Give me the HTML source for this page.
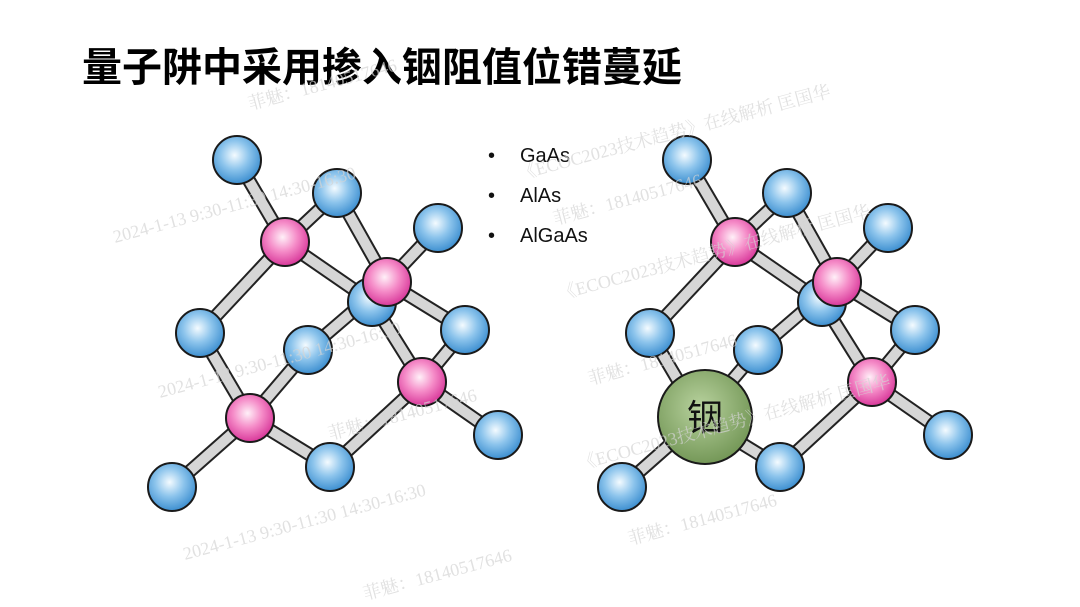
<!DOCTYPE html>
<html><head><meta charset="utf-8"><style>
body{margin:0;width:1080px;height:607px;background:#fff;overflow:hidden;position:relative;font-family:"Liberation Sans","Noto Sans CJK SC",sans-serif}
.t{position:absolute;left:82px;top:44px;font-size:40px;line-height:48px;font-weight:bold;color:#000;white-space:nowrap}
.b{position:absolute;left:488px;font-size:20px;color:#111}
.b span{display:inline-block;width:32px}
</style></head><body>
<div class="t">量子阱中采用掺入铟阻值位错蔓延</div>
<div class="b" style="top:145px"><span>•</span>GaAs</div>
<div class="b" style="top:185px"><span>•</span>AlAs</div>
<div class="b" style="top:225px"><span>•</span>AlGaAs</div>
<svg width="1080" height="607" style="position:absolute;left:0;top:0">
<defs>
<radialGradient id="bl" cx="0.45" cy="0.4" r="0.6"><stop offset="0" stop-color="#f4fbff"/><stop offset="0.5" stop-color="#8cc4ec"/><stop offset="1" stop-color="#3d8fd0"/></radialGradient>
<radialGradient id="pk" cx="0.45" cy="0.4" r="0.6"><stop offset="0" stop-color="#fff0f8"/><stop offset="0.5" stop-color="#f58cc8"/><stop offset="1" stop-color="#d8389a"/></radialGradient>
<radialGradient id="gr" cx="0.45" cy="0.4" r="0.65"><stop offset="0" stop-color="#b8d29e"/><stop offset="1" stop-color="#6f9352"/></radialGradient>
<g id="bonds">
<line x1="237" y1="160" x2="285" y2="242"/><line x1="285" y1="242" x2="337" y2="193"/><line x1="285" y1="242" x2="200" y2="333"/><line x1="285" y1="242" x2="372" y2="302"/>
<line x1="337" y1="193" x2="387" y2="282"/><line x1="387" y1="282" x2="438" y2="228"/><line x1="387" y1="282" x2="308" y2="350"/><line x1="387" y1="282" x2="465" y2="330"/>
<line x1="372" y1="302" x2="422" y2="382"/><line x1="422" y1="382" x2="465" y2="330"/><line x1="422" y1="382" x2="498" y2="435"/><line x1="422" y1="382" x2="330" y2="467"/>
<line x1="200" y1="333" x2="250" y2="418"/><line x1="250" y1="418" x2="308" y2="350"/><line x1="250" y1="418" x2="330" y2="467"/><line x1="250" y1="418" x2="172" y2="487"/>
</g>
<g id="mol">
<use href="#bonds" stroke="#222" stroke-width="14"/>
<use href="#bonds" stroke="#d6d6d6" stroke-width="10"/>
<g stroke="#1a1a1a" stroke-width="2" fill="url(#bl)">
<circle cx="237" cy="160" r="24"/><circle cx="337" cy="193" r="24"/><circle cx="438" cy="228" r="24"/><circle cx="372" cy="302" r="24"/>
<circle cx="200" cy="333" r="24"/><circle cx="308" cy="350" r="24"/><circle cx="465" cy="330" r="24"/><circle cx="498" cy="435" r="24"/>
<circle cx="330" cy="467" r="24"/><circle cx="172" cy="487" r="24"/>
</g>
<g stroke="#1a1a1a" stroke-width="2" fill="url(#pk)">
<circle cx="285" cy="242" r="24"/><circle cx="387" cy="282" r="24"/><circle cx="422" cy="382" r="24"/>
</g>
</g>
</defs>
<use href="#mol"/>
<circle cx="250" cy="418" r="24" stroke="#1a1a1a" stroke-width="2" fill="url(#pk)"/>
<use href="#mol" x="450"/>
<circle cx="705" cy="417" r="47" stroke="#1a1a1a" stroke-width="2" fill="url(#gr)"/>
<text x="705" y="430" text-anchor="middle" font-size="36" font-family="Liberation Sans, Noto Sans CJK SC, sans-serif" fill="#111">铟</text>
<g fill="#d4d4d4" font-family="Liberation Serif, Noto Serif CJK SC, serif" font-size="18" opacity="0.7">
<text transform="translate(115,243) rotate(-15)">2024-1-13 9:30-11:30 14:30-16:30</text>
<text transform="translate(160,398) rotate(-15)">2024-1-13 9:30-11:30 14:30-16:30</text>
<text transform="translate(185,560) rotate(-15)">2024-1-13 9:30-11:30 14:30-16:30</text>
<text transform="translate(250,110) rotate(-15)">菲魅：18140517646</text>
<text transform="translate(330,440) rotate(-15)">菲魅：18140517646</text>
<text transform="translate(365,600) rotate(-15)">菲魅：18140517646</text>
<text transform="translate(520,180) rotate(-15)">《ECOC2023技术趋势》在线解析 匡国华</text>
<text transform="translate(560,300) rotate(-15)">《ECOC2023技术趋势》在线解析 匡国华</text>
<text transform="translate(580,470) rotate(-15)">《ECOC2023技术趋势》在线解析 匡国华</text>
<text transform="translate(555,225) rotate(-15)">菲魅：18140517646</text>
<text transform="translate(590,385) rotate(-15)">菲魅：18140517646</text>
<text transform="translate(630,545) rotate(-15)">菲魅：18140517646</text>
</g>
</svg>
</body></html>
